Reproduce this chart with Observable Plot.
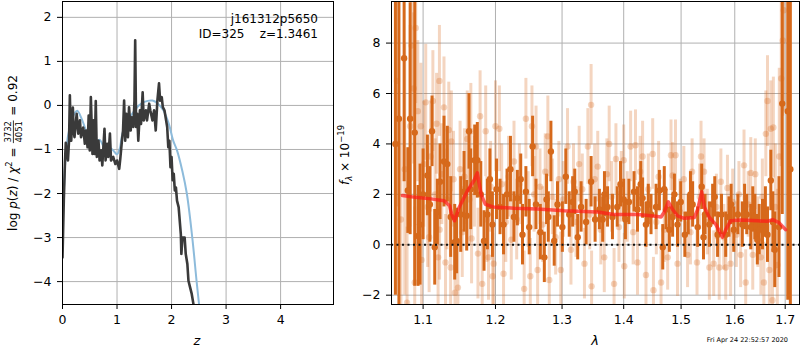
<!DOCTYPE html>
<html><head><meta charset="utf-8">
<script src="https://cdn.jsdelivr.net/npm/d3@7"></script>
<script src="https://cdn.jsdelivr.net/npm/@observablehq/plot@0.6"></script>
<style>
body{margin:0;background:#fff;}
#wrap{position:relative;width:800px;height:350px;background:#fff;}
#wrap svg{position:absolute;top:0;overflow:visible;}
</style></head><body><div id="wrap"></div>
<script>
// ---------- left panel: log p(z) ----------
const zTicks = [0, 1, 2, 3, 4];
const pTicks = [-4, -3, -2, -1, 0, 1, 2];
const zDark = [0,0.024,0.045,0.06,0.08,0.1,0.12,0.135,0.145,0.16,0.19,0.205,0.22,0.26,0.29,0.32,0.34,0.38,0.41,0.43,0.46,0.48,0.50,0.52,0.55,0.57,0.59,0.61,0.63,0.66,0.68,0.71,0.73,0.77,0.79,0.82,0.84,0.87,0.89,0.93,0.97,1.0,1.04,1.06,1.09,1.11,1.13,1.15,1.17,1.2,1.22,1.25,1.27,1.3,1.32,1.333,1.35,1.37,1.39,1.42,1.44,1.47,1.49,1.53,1.55,1.59,1.61,1.65,1.68,1.71,1.74,1.77,1.79,1.82,1.84,1.87,1.9,1.92,1.94,1.96,1.98,2.0,2.02,2.04,2.06,2.08,2.1,2.13,2.17,2.18,2.2,2.24,2.26,2.29,2.31,2.34,2.37,2.4,2.43];
const pDark = [-3.45,-2.16,-1.3,-0.85,-1.05,-1.25,-0.8,0.23,-0.3,-0.8,-0.05,-0.6,-0.72,-0.19,-0.64,-0.34,-0.72,-0.5,-0.87,-0.57,-0.95,-0.23,-1.02,0.19,-1.1,-0.34,-1.1,0.1,-1.17,-0.8,-1.25,-1.02,-1.36,-0.53,-1.25,-0.87,-1.17,-0.64,-1.25,-1.17,-1.33,-1.25,-1.44,-1.21,-0.8,-0.57,0.11,-0.8,-0.19,-0.72,-0.04,-0.57,-0.27,-0.49,0.11,1.48,-0.49,-0.19,-0.8,-0.11,-0.42,0.3,-0.34,-0.11,-0.34,0.04,-0.11,-0.34,-0.11,-0.57,0.11,0.5,0.11,0.19,-0.04,-0.11,-0.34,-0.49,-0.95,-0.8,-1.4,-1.17,-1.7,-1.55,-1.93,-1.86,-2.16,-2.31,-2.92,-3.37,-3.0,-3.0,-3.37,-3.6,-3.98,-4.13,-4.28,-4.5,-4.7];
const zSmooth = [0,0.03,0.05,0.1,0.17,0.22,0.27,0.35,0.45,0.55,0.63,0.68,0.76,0.82,0.88,0.95,1.0,1.05,1.1,1.2,1.3,1.4,1.5,1.65,1.75,1.85,1.95,2.03,2.1,2.2,2.28,2.38,2.46,2.52];
const pSmooth = [-2.6,-1.8,-1.3,-0.7,-0.34,-0.18,-0.12,-0.3,-0.64,-0.91,-0.83,-0.78,-0.95,-1.06,-0.97,-1.05,-1.11,-0.98,-0.64,-0.34,-0.15,0.0,0.08,0.11,0.04,-0.11,-0.42,-0.8,-1.02,-1.5,-2.0,-3.0,-4.0,-4.7];

// ---------- right panel: spectrum ----------
const lamTicks = [1.1, 1.2, 1.3, 1.4, 1.5, 1.6, 1.7];
const fTicks = [-2, 0, 2, 4, 6, 8];
// [lambda, flux, error]
const darkBars = [
[1.0640,4.0,6.0],[1.0685,5.0,7.5],[1.0752,7.4,4.9],[1.0800,2.15,1.7],[1.0830,5.0,4.6],[1.0890,4.45,6.1],[1.0934,0.35,2.0],[1.0960,0.8,2.4],[1.1000,2.0,1.8],[1.1057,2.75,1.6],
[1.1090,1.6,1.5],[1.1119,4.5,1.4],[1.1155,-0.1,1.5],[1.1190,1.3,1.3],[1.1226,2.5,1.5],[1.1280,3.3,1.8],[1.1325,3.2,1.5],[1.1371,1.1,1.6],[1.1426,0.1,1.5],[1.1453,0.15,1.3],
[1.1509,1.2,1.5],[1.1555,2.1,1.6],[1.1592,1.15,1.4],[1.1624,4.5,1.5],[1.1648,2.2,1.6],[1.1704,3.35,1.4],[1.1741,3.35,1.5],[1.1790,2.0,1.3],[1.1836,0.15,1.2],[1.1884,1.2,1.4],
[1.1920,2.6,1.2],[1.1956,0.8,1.3],[1.2015,2.2,1.2],[1.2066,1.5,1.1],[1.2117,0.8,1.2],[1.2168,2.0,1.0],[1.2218,3.0,1.3],[1.2269,1.1,1.0],
[1.2320,1.85,1.1],[1.2370,2.6,1.0],[1.2396,0.4,1.2],[1.2447,2.1,1.0],[1.2497,0.7,1.1],[1.2548,3.9,1.2],[1.2599,1.6,1.0],[1.2665,0.5,1.1],
[1.2726,-0.5,1.0],[1.2760,1.8,1.0],[1.2787,1.1,1.0],[1.2827,3.7,1.2],[1.2878,0.15,1.0],[1.2929,1.6,0.9],[1.3005,0.7,1.0],[1.3059,2.7,1.1],
[1.3113,1.2,0.9],[1.3167,1.7,1.0],[1.3200,2.1,0.9],[1.3247,0.3,0.9],[1.3301,1.5,1.0],[1.3382,0.9,0.9],[1.3462,2.5,1.0],[1.3527,1.0,0.9],
[1.3597,1.4,0.8],[1.3651,1.0,0.9],[1.3680,2.0,0.9],[1.3731,1.5,0.8],[1.3812,1.1,0.9],[1.3892,1.5,0.8],[1.3946,2.4,0.9],[1.4000,1.8,0.8],[1.4029,1.0,0.8],
[1.4088,1.7,0.9],[1.4175,2.1,0.8],[1.4234,1.4,0.9],[1.4290,2.4,0.9],[1.4322,1.85,0.8],[1.4380,0.8,0.9],[1.4420,1.6,0.8],[1.4468,1.2,0.8],
[1.4556,1.5,0.9],[1.4614,2.15,0.8],[1.4673,-0.1,0.9],[1.4700,2.2,0.9],[1.4731,1.4,0.8],[1.4790,0.6,0.9],[1.4848,1.1,0.8],[1.4880,2.0,0.8],[1.4936,0.8,0.9],[1.4994,1.7,0.8],
[1.5068,0.4,0.9],[1.5130,1.2,0.8],[1.5170,2.0,0.9],[1.5210,1.6,0.9],[1.5302,0.7,0.8],[1.5377,2.3,0.9],[1.5410,0.3,0.9],[1.5438,1.2,0.8],
[1.5519,0.8,0.9],[1.5580,1.6,0.8],[1.5620,1.9,0.8],[1.5673,0.4,0.9],[1.5747,1.2,0.8],[1.5827,0.4,0.9],[1.5889,1.1,0.8],[1.5930,1.6,0.8],[1.5981,0.6,0.9],
[1.6060,1.2,0.8],[1.6146,0.8,0.9],[1.6190,1.5,0.9],[1.6232,1.2,0.8],[1.6311,0.7,0.9],[1.6350,1.4,0.9],[1.6391,1.1,0.9],[1.6440,0.2,1.0],[1.6477,0.6,1.0],
[1.6543,0.8,1.0],[1.6600,1.3,1.0],[1.6642,0.4,1.1],[1.6709,2.55,1.2],[1.6750,0.9,1.2],[1.6788,-0.2,1.5],[1.6874,0.7,2.0],[1.6940,5.6,4.4],[1.7053,5.3,7.5],[1.7106,3.0,15]
];
const lightBars = [
[1.0660,6.5,5],[1.0710,1.0,4],[1.0760,3.0,5],[1.0790,-2.3,3],[1.0830,4.7,4],[1.0848,7.9,3],[1.0876,6.2,3],[1.0890,-1.5,3],[1.0903,8.6,3],[1.0930,5.3,2.8],
[1.0970,4.7,2.5],[1.0980,-0.6,2.5],[1.1010,3.2,2.5],[1.1035,5.65,2.3],[1.1060,1.5,2.4],[1.1080,0.3,2.2],[1.1100,3.5,2.2],[1.1130,5.7,2.0],[1.1160,2.0,2.2],[1.1180,4.8,2.0],
[1.1200,-0.5,2.0],[1.1218,6.5,2.2],[1.1220,0.6,2.0],[1.1250,2.8,2.0],[1.1280,5.45,2.0],[1.1300,-0.7,1.9],[1.1320,1.8,2.0],[1.1345,4.55,1.9],[1.1370,-0.9,1.9],[1.1380,4.1,2.0],
[1.1410,2.6,1.9],[1.1430,-1.9,1.8],[1.1470,-1.7,1.9],[1.1500,3.0,1.9],[1.1530,0.5,1.8],[1.1560,2.7,1.9],[1.1600,4.2,1.9],[1.1630,1.8,1.8],[1.1650,4.5,1.9],[1.1660,0.25,1.8],
[1.1700,2.5,1.8],[1.1750,-0.35,1.8],[1.1780,5.1,1.8],[1.1810,-1.55,1.7],[1.1860,4.5,1.8],[1.1877,1.0,1.7],[1.1900,-0.5,1.7],[1.1930,2.3,1.8],[1.1960,-1.25,1.7],[1.1975,-0.75,1.7],
[1.2000,4.7,1.8],[1.2056,4.6,1.7],[1.2090,2.4,1.6],[1.2117,-1.15,1.6],[1.2150,0.9,1.6],[1.2190,2.7,1.6],[1.2230,0.2,1.6],[1.2270,3.3,1.6],[1.2310,1.0,1.6],[1.2350,2.4,1.6],
[1.2421,-1.75,1.5],[1.2447,5.0,1.6],[1.2480,1.4,1.5],[1.2513,-1.25,1.5],[1.2538,4.7,1.6],[1.2570,2.0,1.5],[1.2600,3.9,1.6],[1.2624,-1.0,1.5],[1.2660,2.3,1.5],[1.2700,0.8,1.5],
[1.2740,2.9,1.5],[1.2780,4.3,1.6],[1.2802,-1.4,1.5],[1.2850,1.9,1.5],[1.2900,0.3,1.5],[1.2950,2.6,1.5],[1.2980,-1.0,1.5],[1.3020,1.8,1.5],[1.3086,3.9,1.5],[1.3140,-0.2,1.4],
[1.3180,2.5,1.5],[1.3220,0.9,1.4],[1.3270,3.2,1.5],[1.3320,2.2,1.4],[1.3355,-0.75,1.4],[1.3410,3.9,1.5],[1.3440,1.2,1.4],[1.3462,5.55,1.6],[1.3470,-1.65,1.4],[1.3520,2.6,1.4],
[1.3570,3.1,1.4],[1.3620,0.6,1.4],[1.3677,-0.5,1.4],[1.3720,2.8,1.4],[1.3758,4.0,1.5],[1.3800,1.9,1.4],[1.3839,-1.55,1.4],[1.3870,3.4,1.4],[1.3920,0.7,1.4],[1.3960,2.3,1.4],
[1.4000,3.35,1.4],[1.4010,-0.85,1.3],[1.4060,1.5,1.4],[1.4117,3.9,1.4],[1.4160,0.5,1.3],[1.4200,3.95,1.4],[1.4234,-0.7,1.3],[1.4280,2.9,1.4],[1.4322,3.5,1.4],[1.4380,-1.2,1.3],
[1.4420,2.2,1.4],[1.4497,3.6,1.4],[1.4510,-1.8,1.3],[1.4560,0.9,1.3],[1.4600,2.7,1.4],[1.4643,-1.5,1.3],[1.4700,0.6,1.3],[1.4760,-0.5,1.3],[1.4819,3.55,1.4],[1.4848,2.75,1.3],
[1.4900,3.55,1.4],[1.4936,-0.75,1.3],[1.4980,1.3,1.3],[1.5050,2.6,1.3],[1.5117,-0.4,1.3],[1.5170,0.5,1.3],[1.5200,2.9,1.3],[1.5290,-0.7,1.3],[1.5340,1.9,1.3],[1.5364,3.5,1.4],
[1.5420,2.9,1.3],[1.5480,0.9,1.3],[1.5519,-0.9,1.3],[1.5600,-0.75,1.3],[1.5650,1.5,1.3],[1.5704,-0.9,1.3],[1.5735,2.5,1.3],[1.5790,0.3,1.3],[1.5827,-0.9,1.3],[1.5860,2.25,1.3],
[1.5920,-0.75,1.3],[1.5960,1.7,1.3],[1.6030,0.4,1.3],[1.6080,2.0,1.3],[1.6113,-0.4,1.3],[1.6179,3.15,1.4],[1.6212,-1.5,1.3],[1.6260,1.6,1.3],[1.6311,2.85,1.4],[1.6350,-0.4,1.4],
[1.6400,2.8,1.4],[1.6450,0.5,1.4],[1.6510,-0.5,1.5],[1.6540,1.9,1.5],[1.6570,-1.5,1.6],[1.6609,4.4,1.7],[1.6642,5.7,1.8],[1.6680,-1.0,1.8],[1.6709,4.6,1.9],[1.6742,-2.2,2.0],
[1.6760,4.65,2.0],[1.6800,1.5,2.5],[1.6840,-0.8,3.0],[1.6880,3.5,3.5],[1.6920,6.6,3.5],[1.6950,8.1,3.0],[1.6970,9.3,4.0]
];
const modelLam = [1.073,1.09,1.1105,1.128,1.1355,1.1386,1.1423,1.149,1.1605,1.1695,1.1741,1.1795,1.1855,1.1968,1.2269,1.2624,1.3032,1.357,1.3839,1.4234,1.4468,1.4643,1.47,1.4772,1.4848,1.4936,1.5056,1.5241,1.5302,1.5377,1.5426,1.5519,1.5642,1.5704,1.5765,1.5827,1.592,1.6113,1.6444,1.6642,1.6742,1.6874,1.7007];
const modelF = [1.95,1.88,1.82,1.75,1.55,1.2,0.95,1.5,2.15,2.55,2.85,2.0,1.6,1.5,1.45,1.42,1.35,1.3,1.2,1.2,1.15,1.1,1.3,1.7,1.4,1.15,1.05,1.08,1.4,2.1,1.5,1.08,0.8,0.55,0.3,0.6,0.95,0.98,0.95,0.93,1.0,0.88,0.6];

// ---------- build ----------
const FONT = "DejaVu Sans, sans-serif";
const ORANGE = "#d6691b";
const GRID = "#b0b0b0";
const fmtInt = d => (d < 0 ? "\u2212" : "") + Math.abs(d);
const dark = zDark.map((z, i) => ({z, v: pDark[i]}));
const smooth = zSmooth.map((z, i) => ({z, v: pSmooth[i]}));
const toObj = r => ({l: r[0], f: r[1], e: r[2]});
const darkPts = darkBars.map(toObj);
const lightPts = lightBars.map(toObj);
const model = modelLam.map((l, i) => ({l, f: modelF[i]}));

const common = {height: 350, marginTop: 1, marginBottom: 46,
  style: {fontFamily: FONT, fontSize: "12.5px", background: "white", color: "black"}};

const left = Plot.plot({
  ...common, width: 335, marginLeft: 62, marginRight: 2,
  x: {domain: [0, 4.97], ticks: zTicks, tickFormat: fmtInt, label: null, tickSize: 5, tickPadding: 6},
  y: {domain: [-4.52, 2.36], ticks: pTicks, tickFormat: fmtInt, label: null, tickSize: 5, tickPadding: 6},
  marks: [
    Plot.ruleX(zTicks, {stroke: GRID, strokeWidth: 1}),
    Plot.ruleY(pTicks, {stroke: GRID, strokeWidth: 1}),
    Plot.line(smooth, {x: "z", y: "v", stroke: "#8dbbdb", strokeWidth: 2, curve: "catmull-rom", clip: true}),
    Plot.line(dark, {x: "z", y: "v", stroke: "#3a3a3a", strokeWidth: 2.6, clip: true}),
    Plot.frame({stroke: "black", strokeWidth: 1})
  ]
});

const right = Plot.plot({
  ...common, width: 465, marginLeft: 56, marginRight: 1,
  x: {type: "log", domain: [1.059, 1.7295], ticks: lamTicks, tickFormat: d => d.toFixed(1), label: null, tickSize: 5, tickPadding: 6},
  y: {domain: [-2.37, 9.65], ticks: fTicks, tickFormat: fmtInt, label: null, tickSize: 5, tickPadding: 6},
  marks: [
    Plot.ruleX(lamTicks, {stroke: GRID, strokeWidth: 1}),
    Plot.ruleY(fTicks, {stroke: GRID, strokeWidth: 1}),
    Plot.ruleX(lightPts, {x: "l", y1: d => d.f - d.e, y2: d => d.f + d.e, stroke: ORANGE, strokeOpacity: 0.28, strokeWidth: 3, clip: true}),
    Plot.dot(lightPts, {x: "l", y: "f", r: 3.2, fill: ORANGE, fillOpacity: 0.28, stroke: "none", clip: true}),
    Plot.ruleX(darkPts, {x: "l", y1: d => d.f - d.e, y2: d => d.f + d.e, stroke: ORANGE, strokeWidth: 3, clip: true}),
    Plot.dot(darkPts, {x: "l", y: "f", r: 3.2, fill: ORANGE, stroke: "none", clip: true}),
    Plot.line(model, {x: "l", y: "f", stroke: "#ff1a1a", strokeOpacity: 0.7, strokeWidth: 3.5, clip: true}),
    Plot.ruleY([0], {stroke: "#111", strokeWidth: 2, strokeDasharray: "2,3.5"}),
    Plot.frame({stroke: "black", strokeWidth: 1})
  ]
});

const wrap = document.getElementById("wrap");
left.style.left = "0px";
right.style.left = "335px";
wrap.appendChild(left);
wrap.appendChild(right);

const NS = "http://www.w3.org/2000/svg";
function el(parent, tag, attrs, text) {
  const e = document.createElementNS(NS, tag);
  for (const k in attrs) e.setAttribute(k, attrs[k]);
  if (text != null) e.textContent = text;
  parent.appendChild(e);
  return e;
}
function rich(parent, attrs, parts) {
  const t = el(parent, "text", Object.assign({"font-family": FONT, "font-size": 12, fill: "black", "text-anchor": "start"}, attrs));
  for (const p of parts) {
    const a = {};
    if (p.i) a["font-style"] = "italic";
    if (p.dy) a.dy = p.dy;
    if (p.s) a["font-size"] = p.s;
    el(t, "tspan", a, p.t);
  }
  return t;
}

// annotation
const ann = {"text-anchor": "end", style: "white-space:pre"};
rich(left, Object.assign({x: 318, y: 23}, ann), [{t: "j161312p5650"}]);
rich(left, Object.assign({x: 318, y: 38}, ann), [{t: "ID=325    z=1.3461"}]);

// x labels
rich(left, {x: 197, y: 345, "text-anchor": "middle", "font-size": 13}, [{t: "z", i: true}]);
rich(right, {x: 260, y: 345, "text-anchor": "middle", "font-size": 13}, [{t: "λ", i: true}]);
rich(right, {x: 453, y: 342, "text-anchor": "end", "font-size": 6.5}, [{t: "Fri Apr 24 22:52:57 2020"}]);

// left y label with fraction
const gL = el(left, "g", {});
const t1 = rich(gL, {x: 0, y: 0}, [
  {t: "log "}, {t: "p", i: true}, {t: "("}, {t: "z", i: true}, {t: ") / "}, {t: "χ", i: true},
  {t: "2", s: 8.5, dy: -5}, {t: " = ", dy: 5}
]);
const w1 = t1.getComputedTextLength();
const num = rich(gL, {x: w1 + 1, y: -6}, [{t: "3732", s: 8.5}]);
const wn = num.getComputedTextLength();
rich(gL, {x: w1 + 1, y: 4.5}, [{t: "4051", s: 8.5}]);
el(gL, "line", {x1: w1 + 0.5, x2: w1 + wn + 1.5, y1: -3.6, y2: -3.6, stroke: "black", "stroke-width": 0.8});
const t3 = rich(gL, {x: w1 + wn + 2.5, y: 0}, [{t: " = 0.92"}]);
const totL = w1 + wn + 2.5 + t3.getComputedTextLength();
gL.setAttribute("transform", `translate(17,${153 + totL / 2}) rotate(-90)`);

// right y label
const gR = el(right, "g", {});
const tr = rich(gR, {x: 0, y: 0}, [
  {t: "f", i: true}, {t: "λ", i: true, s: 8.5, dy: 3}, {t: " × 10", dy: -3, s: 12}, {t: "−19", s: 8.5, dy: -5}
]);
const wr = tr.getComputedTextLength();
gR.setAttribute("transform", `translate(14,${155 + wr / 2}) rotate(-90)`);
</script>
</body></html>
